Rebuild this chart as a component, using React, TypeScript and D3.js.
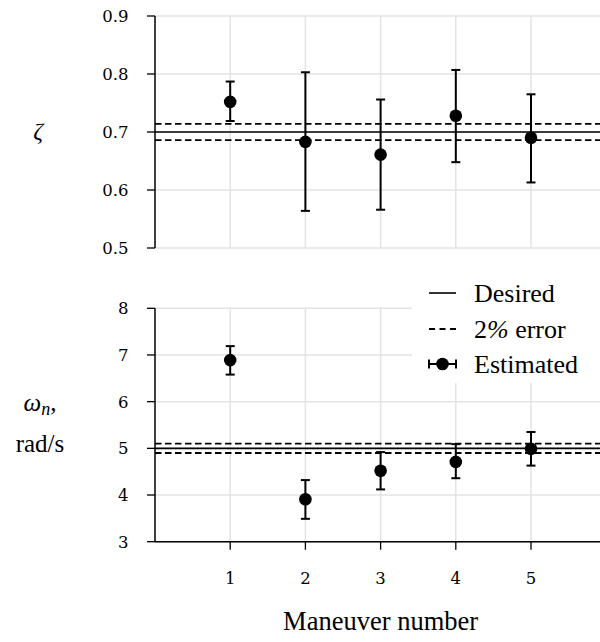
import React from "react";
import * as d3 from "d3";

const maneuvers = [1, 2, 3, 4, 5];
const zetaEst = [0.752, 0.683, 0.661, 0.728, 0.69];
const zetaLow = [0.719, 0.564, 0.566, 0.648, 0.613];
const zetaHigh = [0.787, 0.803, 0.756, 0.807, 0.765];
const zetaDesired = 0.7;
const zetaTicks = [0.5, 0.6, 0.7, 0.8, 0.9];

const wnEst = [6.89, 3.91, 4.52, 4.71, 4.99];
const wnLow = [6.58, 3.49, 4.12, 4.36, 4.63];
const wnHigh = [7.19, 4.32, 4.92, 5.09, 5.35];
const wnDesired = 5;
const wnTicks = [3, 4, 5, 6, 7, 8];

const errPct = 0.02;

const W = 600;
const H = 642;
const left = 155;
const right = 600;

const x = d3.scaleLinear().domain([0, 1]).range([155, 230.2]);
const yTop = d3.scaleLinear().domain([0.5, 0.9]).range([248, 16]);
const yBot = d3.scaleLinear().domain([3, 8]).range([541.7, 308.3]);

const grid = "#e3e3e3";
const tickFont = "DejaVu Serif";
const textFont = "Liberation Serif, DejaVu Serif";

function Panel({ y, ticks, est, lo, hi, desired, fmt, bottomAxis }: any) {
  const [y0, y1] = y.range();
  return (
    <g>
      {ticks.map((t: number) => (
        <line key={"h" + t} x1={left} x2={right} y1={y(t)} y2={y(t)} stroke={grid} strokeWidth={1.5} />
      ))}
      {maneuvers.map((m) => (
        <line key={"v" + m} x1={x(m)} x2={x(m)} y1={y1} y2={y0} stroke={grid} strokeWidth={1.5} />
      ))}
      <line x1={left} x2={right} y1={y(desired)} y2={y(desired)} stroke="#000" strokeWidth={1.6} />
      {[1 + errPct, 1 - errPct].map((f) => (
        <line key={f} x1={left} x2={right} y1={y(desired * f)} y2={y(desired * f)} stroke="#000" strokeWidth={1.8} strokeDasharray="6.5,3.5" />
      ))}
      {maneuvers.map((m, i) => (
        <g key={"e" + m}>
          <line x1={x(m)} x2={x(m)} y1={y(lo[i])} y2={y(hi[i])} stroke="#000" strokeWidth={2} />
          <line x1={x(m) - 4.5} x2={x(m) + 4.5} y1={y(lo[i])} y2={y(lo[i])} stroke="#000" strokeWidth={2} />
          <line x1={x(m) - 4.5} x2={x(m) + 4.5} y1={y(hi[i])} y2={y(hi[i])} stroke="#000" strokeWidth={2} />
          <circle cx={x(m)} cy={y(est[i])} r={6.3} fill="#000" />
        </g>
      ))}
      <line x1={left} x2={left} y1={y1} y2={y0} stroke="#000" strokeWidth={1.5} />
      {ticks.map((t: number) => (
        <g key={"t" + t}>
          <line x1={left - 8} x2={left} y1={y(t)} y2={y(t)} stroke="#000" strokeWidth={1.3} />
          <text x={128.5} y={y(t)} dy="0.36em" textAnchor="end" fontFamily={tickFont} fontSize={16.5}>
            {fmt(t)}
          </text>
        </g>
      ))}
      {bottomAxis && (
        <g>
          <line x1={left} x2={right} y1={y0} y2={y0} stroke="#000" strokeWidth={1.5} />
          {maneuvers.map((m) => (
            <g key={"xt" + m}>
              <line x1={x(m)} x2={x(m)} y1={y0} y2={y0 + 8} stroke="#000" strokeWidth={1.3} />
              <text x={x(m)} y={578} dy="0.36em" textAnchor="middle" fontFamily={tickFont} fontSize={16.5}>
                {m}
              </text>
            </g>
          ))}
        </g>
      )}
    </g>
  );
}

export default function App() {
  const lx0 = 429;
  const lx1 = 456;
  const ltx = 474;
  const ly = [293, 329, 364];
  return (
    <svg width={W} height={H} style={{ display: "block", position: "absolute", left: 0, top: 0 }}>
      <rect width={W} height={H} fill="#fff" />
      <Panel y={yTop} ticks={zetaTicks} est={zetaEst} lo={zetaLow} hi={zetaHigh} desired={zetaDesired} fmt={d3.format(".1f")} bottomAxis={false} />
      <Panel y={yBot} ticks={wnTicks} est={wnEst} lo={wnLow} hi={wnHigh} desired={wnDesired} fmt={d3.format("d")} bottomAxis={true} />

      {/* legend */}
      <rect x={412} y={266} width={188} height={117} fill="#fff" />
      <line x1={lx0} x2={lx1} y1={ly[0]} y2={ly[0]} stroke="#000" strokeWidth={1.6} />
      <line x1={lx0} x2={lx1} y1={ly[1]} y2={ly[1]} stroke="#000" strokeWidth={1.8} strokeDasharray="6,4.5" />
      <line x1={lx0} x2={lx1} y1={ly[2]} y2={ly[2]} stroke="#000" strokeWidth={2} />
      <line x1={lx0} x2={lx0} y1={ly[2] - 4.5} y2={ly[2] + 4.5} stroke="#000" strokeWidth={2} />
      <line x1={lx1} x2={lx1} y1={ly[2] - 4.5} y2={ly[2] + 4.5} stroke="#000" strokeWidth={2} />
      <circle cx={(lx0 + lx1) / 2} cy={ly[2]} r={6.3} fill="#000" />
      {["Desired", "2% error", "Estimated"].map((s, i) => (
        <text key={s} x={ltx} y={ly[i]} dy="0.33em" fontFamily={textFont} fontSize={26}>
          {s === "2% error" ? (
            <>
              <tspan>2</tspan>
              <tspan fontStyle="italic">%</tspan>
              <tspan> error</tspan>
            </>
          ) : (
            s
          )}
        </text>
      ))}

      {/* axis labels */}
      <text x={38} y={yTop(0.7)} dy="0.3em" textAnchor="middle" fontFamily={textFont} fontStyle="italic" fontSize={24}>
        ζ
      </text>
      <text x={40} y={403} dy="0.3em" textAnchor="middle" fontFamily={textFont} fontSize={25}>
        <tspan fontStyle="italic">ω</tspan>
        <tspan fontStyle="italic" fontSize={18} dy="4">n</tspan>
        <tspan dy="-4">,</tspan>
      </text>
      <text x={40} y={444} dy="0.33em" textAnchor="middle" fontFamily={textFont} fontSize={25}>
        rad/s
      </text>
      <text x={(x(1) + x(5)) / 2} y={621} dy="0.33em" textAnchor="middle" fontFamily={textFont} fontSize={26.5}>
        Maneuver number
      </text>
    </svg>
  );
}
